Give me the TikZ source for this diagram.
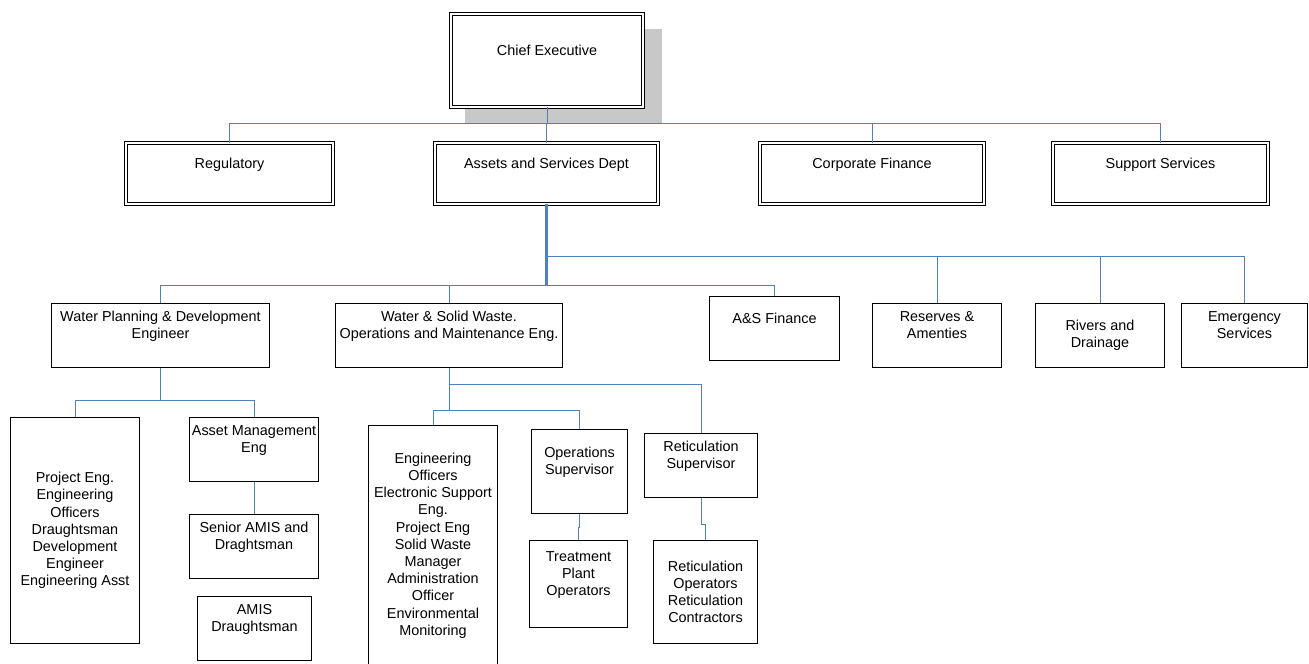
\documentclass[tikz,border=0pt]{standalone}
\usepackage{fontspec}
\setmainfont{Liberation Sans}
\definecolor{linkblue}{HTML}{4F81BD}
\definecolor{shadowgrey}{HTML}{C8C8C8}
\usetikzlibrary{shadows}
\tikzset{
  unit/.style={draw=black,line width=0.6pt,fill=white,align=center,inner sep=0.5pt},
  headunit/.style={unit,double,double distance=1.2pt,line width=0.5pt},
  link/.style={draw=linkblue,line width=0.55pt}
}

\begin{document}
\begin{tikzpicture}[x=0.2mm,y=-0.2mm,font=\fontsize{8.2}{9.8}\selectfont]
  \useasboundingbox (0,0) rectangle (1309,664);
  % Chief Executive
  \node[headunit,minimum width=38.4mm,minimum height=18.6mm,
    drop shadow={shadow xshift=3.2mm,shadow yshift=-3.1mm,shadow scale=1.03,fill=shadowgrey,opacity=1}]
    (chief) at (547,60.5) {Chief Executive\\[2pt]\mbox{}};
  % departments
  \node[headunit,minimum width=41.4mm,minimum height=12.2mm] (reg) at (229.5,173.5) {Regulatory\\[2pt]\mbox{}};
  \node[headunit,minimum width=44.6mm,minimum height=12.2mm] (asd) at (546.5,173.5) {Assets and Services Dept\\[2pt]\mbox{}};
  \node[headunit,minimum width=44.8mm,minimum height=12.2mm] (cfin) at (872,173.5) {Corporate Finance\\[2pt]\mbox{}};
  \node[headunit,minimum width=43mm,minimum height=12.2mm] (sup) at (1160.5,173.5) {Support Services\\[2pt]\mbox{}};
  \draw[link] (chief.south) -- ++(0,16) coordinate (topbus);
  \foreach \n in {reg,asd,cfin,sup}
    \draw[link] (topbus) -| (\n.north);
  % Assets and Services sections
  \node[unit,minimum width=43.6mm,minimum height=12.8mm] (wpd) at (160.5,335.5) {Water Planning \& Development\\Engineer\\[2pt]\mbox{}};
  \node[unit,minimum width=45.4mm,minimum height=12.8mm] (wsw) at (449,335.5) {Water \& Solid Waste.\\Operations and Maintenance Eng.\\[2pt]\mbox{}};
  \node[unit,minimum width=26mm,minimum height=12.8mm] (asf) at (774.5,328.5) {A\&S Finance\\[2pt]\mbox{}};
  \node[unit,minimum width=25.8mm,minimum height=12.8mm] (res) at (937,335.5) {Reserves \&\\Amenties\\[2pt]\mbox{}};
  \node[unit,minimum width=25.8mm,minimum height=12.8mm] (riv) at (1100,335.5) {Rivers and\\Drainage};
  \node[unit,minimum width=25.2mm,minimum height=12.8mm] (emg) at (1244.5,335.5) {Emergency\\Services\\[2pt]\mbox{}};
  \draw[link,line width=1.2pt] (asd.south) -- ++(0,81) coordinate (lowbus);
  \path (asd.south) ++(0,52) coordinate (highbus);
  \foreach \n in {wpd,wsw,asf}
    \draw[link] (lowbus) -| (\n.north);
  \foreach \n in {res,riv,emg}
    \draw[link] (highbus) -| (\n.north);
  % Water Planning staff
  \node[unit,minimum width=25.8mm,minimum height=45.2mm] (proj) at (75,530.5) {Project Eng.\\Engineering\\Officers\\Draughtsman\\Development\\Engineer\\Engineering Asst};
  \node[unit,minimum width=25.8mm,minimum height=12.8mm] (ame) at (254,449.5) {Asset Management\\Eng\\[2pt]\mbox{}};
  \node[unit,minimum width=25.8mm,minimum height=12.8mm] (sams) at (254,546.5) {Senior AMIS and\\Draghtsman\\[2pt]\mbox{}};
  \node[unit,minimum width=22.8mm,minimum height=12.8mm] (amis) at (254.5,628.5) {AMIS\\Draughtsman\\[2pt]\mbox{}};
  \draw[link] (wpd.south) -- ++(0,32) coordinate (wpdbus);
  \foreach \n in {proj,ame}
    \draw[link] (wpdbus) -| (\n.north);
  \draw[link] (ame) -- (sams);
  % Water and Solid Waste staff
  \node[unit,minimum width=25.8mm,minimum height=48mm] (engo) at (433,545.5) {Engineering\\Officers\\Electronic Support\\Eng.\\Project Eng\\Solid Waste\\Manager\\Administration\\Officer\\Environmental\\Monitoring};
  \node[unit,minimum width=19.2mm,minimum height=16.8mm] (ops) at (579.5,471.5) {Operations\\Supervisor\\[2pt]\mbox{}};
  \node[unit,minimum width=19.6mm,minimum height=17.4mm] (trt) at (578.5,584) {Treatment\\Plant\\Operators\\[2pt]\mbox{}};
  \node[unit,minimum width=22.6mm,minimum height=12.8mm] (rsup) at (701,465.5) {Reticulation\\Supervisor\\[2pt]\mbox{}};
  \node[unit,minimum width=20.8mm,minimum height=20.6mm] (rops) at (705.5,592) {Reticulation\\Operators\\Reticulation\\Contractors};
  \draw[link] (wsw.south) -- ++(0,42) coordinate (wswbus);
  \foreach \n in {engo,ops}
    \draw[link] (wswbus) -| (\n.north);
  \draw[link] (wsw.south) ++(0,16) -| (rsup.north);
  \draw[link] (ops.south) -- ++(0,13) -| (trt.north);
  \draw[link] (rsup.south) -- ++(0,26) -| (rops.north);
\end{tikzpicture}
\end{document}
